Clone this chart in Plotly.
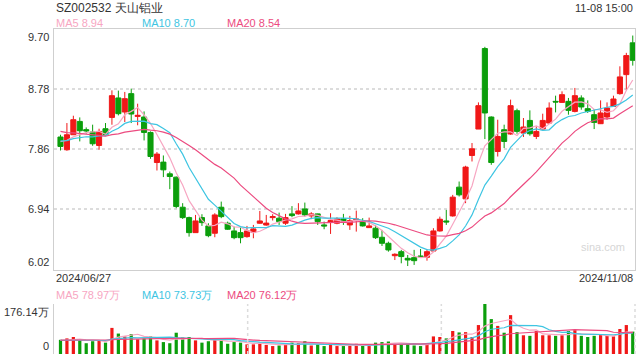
import plotly.graph_objects as go
import pandas as pd

# ---------------- data ----------------
first_date = "2024/06/27"
last_date = "2024/11/08"
stamp = "11-08 15:00"
title = "SZ002532 天山铝业"

open_ = [8.047, 7.852, 8.082, 8.286, 8.160, 8.124, 7.918, 8.174, 8.347, 8.645,
         8.430, 8.711, 8.363, 8.353, 8.117, 7.657, 7.663, 7.484, 7.433, 6.973,
         6.814, 6.584, 6.814, 6.687, 6.575, 6.973, 6.728, 6.610, 6.584, 6.523,
         6.590, 6.728, 6.700, 6.814, 6.805, 6.728, 6.871, 6.871, 6.947, 6.840,
         6.871, 6.702, 6.748, 6.728, 6.794, 6.702, 6.780, 6.753, 6.661, 6.652,
         6.513, 6.421, 6.231, 6.293, 6.191, 6.201, 6.227, 6.207, 6.303, 6.610,
         6.763, 6.840, 7.280, 7.101, 7.765, 8.169, 9.401, 8.353, 7.826, 8.159,
         8.093, 8.450, 8.108, 8.301, 8.056, 8.169, 8.261, 8.593, 8.577, 8.593,
         8.439, 8.645, 8.481, 8.389, 8.251, 8.353, 8.516, 8.711, 9.002, 9.488]
high = [8.082, 8.261, 8.373, 8.347, 8.194, 8.236, 8.174, 8.261, 8.761, 8.757,
        8.737, 8.788, 8.557, 8.439, 8.133, 7.817, 7.765, 7.519, 7.443, 7.035,
        6.829, 6.855, 6.866, 6.728, 6.881, 7.059, 6.753, 6.676, 6.667, 6.687,
        6.702, 6.916, 6.855, 6.866, 6.891, 6.871, 6.990, 7.035, 7.044, 6.897,
        6.875, 6.753, 6.881, 6.820, 6.871, 6.840, 6.921, 6.805, 6.814, 6.702,
        6.626, 6.446, 6.268, 6.320, 6.242, 6.320, 6.334, 6.330, 6.652, 6.829,
        6.932, 7.162, 7.366, 7.607, 7.955, 8.577, 9.427, 8.363, 8.312, 8.236,
        8.619, 8.481, 8.338, 8.455, 8.209, 8.404, 8.577, 8.680, 8.746, 8.645,
        8.798, 8.685, 8.608, 8.476, 8.608, 8.577, 8.680, 9.129, 9.335, 9.600]
low = [7.841, 7.837, 8.080, 7.980, 8.100, 7.913, 7.852, 8.070, 8.235, 8.378,
       8.277, 8.261, 8.227, 7.995, 7.714, 7.535, 7.434, 7.249, 6.958, 6.794,
       6.523, 6.580, 6.687, 6.514, 6.514, 6.805, 6.626, 6.483, 6.421, 6.507,
       6.498, 6.720, 6.690, 6.770, 6.702, 6.702, 6.820, 6.860, 6.829, 6.790,
       6.702, 6.636, 6.564, 6.712, 6.702, 6.626, 6.600, 6.677, 6.655, 6.487,
       6.380, 6.293, 6.165, 6.115, 6.073, 6.090, 6.210, 6.155, 6.293, 6.600,
       6.702, 6.829, 7.137, 7.035, 7.673, 8.169, 8.016, 7.622, 7.749, 7.878,
       8.082, 8.097, 8.047, 8.067, 8.016, 8.159, 8.250, 8.424, 8.568, 8.389,
       8.424, 8.465, 8.415, 8.169, 8.246, 8.312, 8.507, 8.695, 8.761, 9.140]
close = [7.903, 8.082, 8.312, 8.143, 8.140, 7.944, 8.133, 8.082, 8.680, 8.404,
         8.634, 8.399, 8.378, 8.117, 7.749, 7.786, 7.545, 7.443, 6.983, 6.814,
         6.584, 6.763, 6.737, 6.538, 6.855, 6.829, 6.636, 6.507, 6.507, 6.610,
         6.641, 6.763, 6.730, 6.829, 6.753, 6.814, 6.845, 6.916, 6.855, 6.871,
         6.753, 6.687, 6.768, 6.794, 6.763, 6.768, 6.790, 6.687, 6.687, 6.507,
         6.421, 6.319, 6.253, 6.218, 6.165, 6.155, 6.216, 6.293, 6.610, 6.789,
         6.748, 7.127, 7.162, 7.587, 7.867, 8.527, 8.415, 7.657, 8.056, 7.979,
         8.527, 8.133, 8.200, 8.097, 8.133, 8.301, 8.491, 8.583, 8.695, 8.455,
         8.680, 8.507, 8.439, 8.271, 8.415, 8.491, 8.629, 8.967, 9.293, 9.221]
# volume in 万 (10k shares)
volume = [50, 55, 60, 48, 38, 45, 48, 40, 92, 72,
          62, 70, 52, 55, 62, 48, 42, 38, 75, 58,
          60, 48, 40, 45, 55, 50, 36, 42, 40, 34,
          34, 40, 32, 28, 30, 34, 40, 38, 45, 30,
          34, 28, 36, 28, 28, 30, 36, 30, 28, 40,
          42, 44, 36, 34, 36, 30, 28, 38, 62, 60,
          55, 81, 76, 77, 60, 102, 176.14, 123, 99, 75,
          137, 77, 66, 64, 81, 66, 66, 64, 66, 81,
          84, 64, 60, 64, 70, 64, 62, 88, 102, 79]
# sessions before the first visible day (only feed the moving averages)
prior_close = [8.45, 8.40, 8.35, 8.38, 8.30, 8.25, 8.20, 8.22, 8.15, 8.10,
               8.05, 8.00, 7.98, 8.02, 7.95, 7.98, 8.05, 8.00, 7.95]
prior_volume = [55, 48, 52, 45, 60, 50, 42, 48, 55, 46,
                50, 44, 52, 48, 45, 50, 46, 44, 48]

# values printed in the legends of the reference
price_ma_last = [8.94, 8.70, 8.54]
vol_ma_last = [78.97, 73.73, 76.12]
ma_names = ["MA5", "MA10", "MA20"]

price_ticks = [9.70, 8.78, 7.86, 6.94, 6.02]
vol_max = 176.14

# ---------------- styling ----------------
RED = "#f01818"
GREEN = "#0b9e0b"
C5 = "#f7a6c2"
C10 = "#3ec5e2"
C20 = "#ec4b80"
FONT = "Liberation Sans, Arial, sans-serif"

n = len(close)
x = list(range(n))


def moving_avg(prior, vals, w):
    s = pd.Series(list(prior) + list(vals)).rolling(w, min_periods=1).mean()
    return s.iloc[len(prior):].tolist()


ma5 = moving_avg(prior_close, close, 5)
ma10 = moving_avg(prior_close, close, 10)
ma20 = moving_avg(prior_close, close, 20)
vma5 = moving_avg(prior_volume, volume, 5)
vma10 = moving_avg(prior_volume, volume, 10)
vma20 = moving_avg(prior_volume, volume, 20)

fig = go.Figure()
fig.add_trace(go.Candlestick(
    x=x, open=open_, high=high, low=low, close=close,
    increasing=dict(line=dict(color=RED, width=1), fillcolor=RED),
    decreasing=dict(line=dict(color=GREEN, width=1), fillcolor=GREEN),
    whiskerwidth=0, xaxis="x", yaxis="y"))
for vals, col in [(ma5, C5), (ma10, C10), (ma20, C20)]:
    fig.add_trace(go.Scatter(x=x, y=vals, mode="lines", xaxis="x", yaxis="y",
                             line=dict(color=col, width=1.2)))

bar_colors = [RED if c >= o else GREEN for o, c in zip(open_, close)]
fig.add_trace(go.Bar(x=x, y=volume, marker_color=bar_colors, marker_line_width=0,
                     width=0.5, xaxis="x2", yaxis="y2"))
for vals, col in [(vma5, C5), (vma10, C10), (vma20, C20)]:
    fig.add_trace(go.Scatter(x=x, y=vals, mode="lines", xaxis="x2", yaxis="y2",
                             line=dict(color=col, width=1.2)))

LINE = "#cfcfcf"
GRID = "#dcdcdc"
xr = [-1.01, n - 1 + 0.35]
fig.update_layout(
    width=640, height=360,
    margin=dict(l=54, r=5, t=29, b=6),
    paper_bgcolor="white", plot_bgcolor="white",
    showlegend=False,
    boxgap=0.1, boxgroupgap=0.12,
    font=dict(family=FONT, size=11, color="#333333"),
    xaxis=dict(domain=[0, 1], range=xr, anchor="y", showticklabels=False,
               showgrid=False, zeroline=False, showline=True, mirror=True,
               linecolor=LINE, linewidth=1, rangeslider=dict(visible=False)),
    yaxis=dict(domain=[0.26, 1], range=[price_ticks[-1], price_ticks[0]], anchor="x",
               tickvals=price_ticks[1:-1], showticklabels=False, showgrid=True,
               gridcolor=GRID, griddash="dot", gridwidth=1.5, zeroline=False,
               showline=True, mirror=True, linecolor=LINE, linewidth=1),
    xaxis2=dict(domain=[0, 1], range=xr, anchor="y2", matches="x",
                showticklabels=False, showgrid=False, zeroline=False, showline=False),
    yaxis2=dict(domain=[0, 0.1538], range=[0, vol_max], anchor="x2",
                tickvals=[vol_max], showticklabels=False, showgrid=True,
                gridcolor=GRID, griddash="dot", gridwidth=1.5, zeroline=False,
                showline=True, linecolor=LINE, linewidth=1),
)

# vertical dotted dividers in the volume panel
for frac in (1 / 3, 2 / 3, 1.0):
    fig.add_shape(type="line", xref="x2 domain", yref="y2 domain",
                  x0=frac, x1=frac, y0=0, y1=1,
                  line=dict(color=GRID, width=1.5, dash="dot"))

ann = []
# price labels
for i, v in enumerate(price_ticks):
    ya = "top" if i == 0 else ("bottom" if i == len(price_ticks) - 1 else "middle")
    ann.append(dict(x=0, xref="paper", y=v, yref="y", text=f"{v:.2f}",
                    xanchor="right", yanchor=ya, xshift=-3, showarrow=False,
                    font=dict(size=11, color="#333333")))
ann.append(dict(x=0, xref="paper", y=vol_max, yref="y2", text=f"{vol_max:.2f}万",
                xanchor="right", yanchor="top", xshift=-3, showarrow=False,
                font=dict(size=11, color="#333333")))
ann.append(dict(x=0, xref="paper", y=0, yref="y2", text="0",
                xanchor="right", yanchor="bottom", xshift=-3, showarrow=False,
                font=dict(size=11, color="#333333")))


def py(pix):
    return 1 - (pix - 29) / 325.0


ann.append(dict(x=0, xref="paper", y=py(8), yref="paper", text=title,
                xanchor="left", yanchor="middle", showarrow=False,
                font=dict(size=12, color="#333333")))
ann.append(dict(x=1, xref="paper", y=py(8), yref="paper", text=stamp,
                xanchor="right", yanchor="middle", showarrow=False,
                font=dict(size=11, color="#333333")))
legend_x = [0, (140 - 54) / 581, (225 - 54) / 581]
colors = [C5, C10, C20]
for lx, name, val, c in zip(legend_x, ma_names, price_ma_last, colors):
    ann.append(dict(x=lx, xref="paper", y=py(23), yref="paper", text=f"{name} {val:.2f}",
                    xanchor="left", yanchor="middle", showarrow=False,
                    font=dict(size=11, color=c)))
for lx, name, val, c in zip(legend_x, ma_names, vol_ma_last, colors):
    ann.append(dict(x=lx, xref="paper", y=py(295), yref="paper", text=f"{name} {val:.2f}万",
                    xanchor="left", yanchor="middle", showarrow=False,
                    font=dict(size=11, color=c)))
ann.append(dict(x=0, xref="paper", y=py(278), yref="paper", text=first_date,
                xanchor="left", yanchor="middle", showarrow=False,
                font=dict(size=11, color="#333333")))
ann.append(dict(x=1, xref="paper", y=py(278), yref="paper", text=last_date,
                xanchor="right", yanchor="middle", showarrow=False,
                font=dict(size=11, color="#333333")))
ann.append(dict(x=(603 - 54) / 581, xref="paper", y=py(247), yref="paper", text="sina.com",
                xanchor="center", yanchor="middle", showarrow=False,
                font=dict(size=11, color="#d6d6d6")))
fig.update_layout(annotations=ann)

fig.write_html("out.html")
